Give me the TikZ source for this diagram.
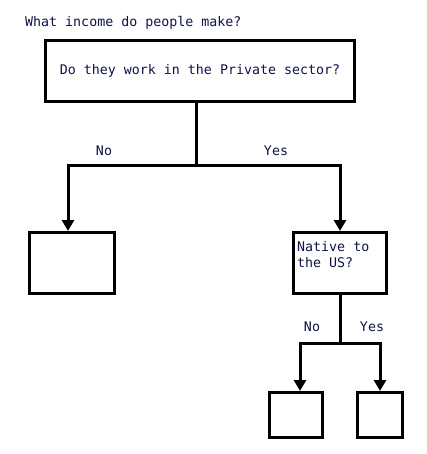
\documentclass[tikz,border=0pt]{standalone}
\usepackage{fontspec}
\setmonofont{DejaVu Sans Mono}
\usetikzlibrary{arrows.meta}
\definecolor{inknavy}{RGB}{12,20,72}
\begin{document}
\begin{tikzpicture}[x=1pt,y=-1pt,
  box/.style={draw,line width=3pt,inner sep=0pt},
  arr/.style={line width=3pt,-{Triangle[length=11pt,width=12pt]}},
  txt/.style={text=inknavy,font=\ttfamily\fontsize{13.3}{16}\selectfont}]

\useasboundingbox (0,0) rectangle (426,454);

\node[txt,anchor=base west,inner sep=0pt] (title) at (25,27) {What income do people make?};

% questions
\node[box,txt,minimum width=309pt,minimum height=61pt] (private) at (200,71) {Do they work in the Private sector?\hspace{6pt}};
\node[box,minimum width=93pt,minimum height=61pt,
  label={[txt,align=left,anchor=north west,inner xsep=5pt,inner ysep=10pt]north west:{Native to\\the US?}}] (native) at (340,263) {};

% leaves
\node[box,minimum width=85pt,minimum height=61pt] (notprivate) at (72,263) {};
\node[box,minimum width=53pt,minimum height=45pt] (notnative) at (296,415) {};
\node[box,minimum width=45pt,minimum height=45pt] (isnative) at (380,415) {};

\coordinate (split1) at (196,166);
\coordinate (split2) at (340,343);

\draw[line width=3pt] (private.south -| split1) -- (split1);
\draw[arr] (split1) -| ([xshift=-4pt]notprivate.north);
\draw[arr] (split1) -| (native.north);

\draw[line width=3pt] (native.south) -- (split2);
\draw[arr] (split2) -| ([xshift=4pt]notnative.north);
\draw[arr] (split2) -| (isnative.north);

\node[txt] (no1) at (104,151) {No};
\node[txt] (yes1) at (276,151) {Yes};
\node[txt] (no2) at (312,327) {No};
\node[txt] (yes2) at (372,327) {Yes};
\end{tikzpicture}
\end{document}
